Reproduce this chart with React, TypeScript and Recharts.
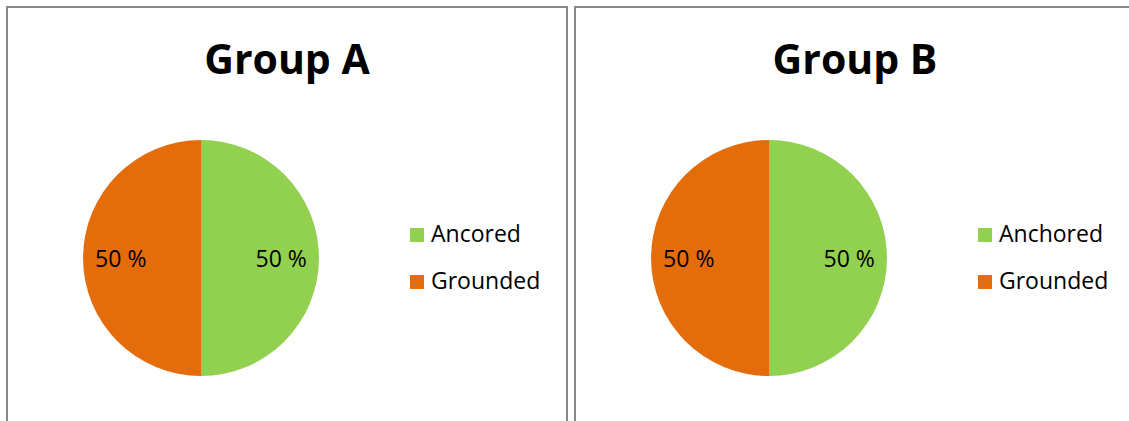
import { PieChart, Pie, Cell, Legend } from 'recharts';

const titles = ['Group A', 'Group B'];
const groupACategories = ['Ancored', 'Grounded'];
const groupBCategories = ['Anchored', 'Grounded'];
const groupAValues = [50, 50];
const groupBValues = [50, 50];
const sliceColors = ['#92D050', '#E46C0A'];

const FONT = '"Open Sans", "Noto Sans", sans-serif';
const RADIAN = Math.PI / 180;

function renderLabel(props: any) {
  const { cx, cy, midAngle, outerRadius, percent } = props;
  const r = outerRadius * 0.68;
  const x = cx + r * Math.cos(-midAngle * RADIAN);
  const y = cy + r * Math.sin(-midAngle * RADIAN);
  return (
    <text
      x={x}
      y={y}
      fill="#000"
      fontSize={23}
      fontFamily={FONT}
      textAnchor="middle"
      dominantBaseline="central"
    >
      {`${Math.round(percent * 100)} %`}
    </text>
  );
}

function renderLegend(props: any) {
  const { payload } = props;
  return (
    <div>
      {(payload || []).map((entry: any) => (
        <div
          key={entry.value}
          style={{
            display: 'flex',
            alignItems: 'center',
            height: 47,
            fontFamily: FONT,
            fontSize: 23,
            color: '#000',
          }}
        >
          <span
            style={{
              display: 'inline-block',
              width: 14,
              height: 14,
              background: entry.color,
              marginRight: 7,
              marginTop: 4,
            }}
          />
          <span>{entry.value}</span>
        </div>
      ))}
    </div>
  );
}

function GroupPanel({ title, categories, values, left }: { title: string; categories: string[]; values: number[]; left: number }) {
  const data = categories.map((name, i) => ({ name, value: values[i] }));
  return (
    <div
      style={{
        position: 'absolute',
        left,
        top: 6,
        width: 562,
        height: 430,
        boxSizing: 'border-box',
        border: '2px solid #888',
        background: '#fff',
      }}
    >
      <div
        style={{
          position: 'absolute',
          left: 0,
          top: 30,
          width: 558,
          textAlign: 'center',
          fontFamily: FONT,
          fontWeight: 700,
          fontSize: 41,
          lineHeight: '41px',
          color: '#000',
        }}
      >
        {title}
      </div>
      <PieChart
        width={558}
        height={420}
        margin={{ top: 0, right: 0, bottom: 0, left: 0 }}
        style={{ position: 'absolute', left: 0, top: 0 }}
      >
        <Pie
          data={data}
          dataKey="value"
          nameKey="name"
          cx={193}
          cy={250}
          outerRadius={118}
          startAngle={90}
          endAngle={-270}
          stroke="none"
          label={renderLabel}
          labelLine={false}
          isAnimationActive={false}
        >
          {data.map((d, i) => (
            <Cell key={d.name} fill={sliceColors[i]} />
          ))}
        </Pie>
        <Legend
          layout="vertical"
          content={renderLegend}
          wrapperStyle={{ position: 'absolute', left: 402, top: 201, width: 156 }}
        />
      </PieChart>
    </div>
  );
}

export default function App() {
  return (
    <div style={{ position: 'fixed', left: 0, top: 0, width: 1129, height: 421, background: '#fff', overflow: 'hidden' }}>
      <GroupPanel title={titles[0]} categories={groupACategories} values={groupAValues} left={6} />
      <GroupPanel title={titles[1]} categories={groupBCategories} values={groupBValues} left={574} />
    </div>
  );
}
